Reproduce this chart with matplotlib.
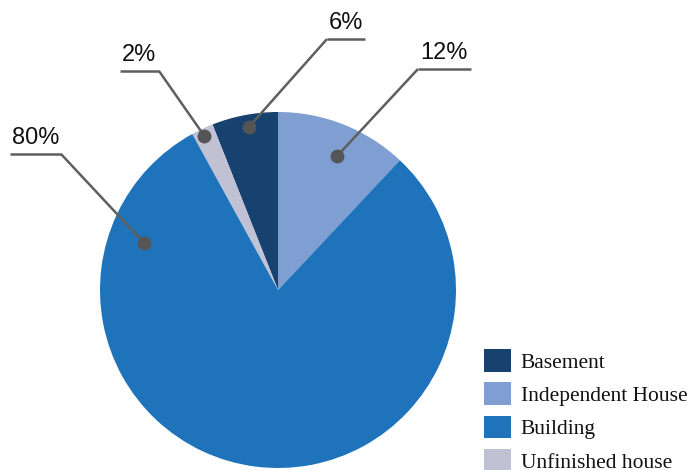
import numpy as np
import matplotlib
matplotlib.use("Agg")
import matplotlib.pyplot as plt
from matplotlib.patches import Patch

# data (in drawing order: counter-clockwise starting at Independent House)
categories = ["Independent House", "Basement", "Unfinished house", "Building"]
values = [12, 6, 2, 80]
labels = ["12%", "6%", "2%", "80%"]
legend_order = ["Basement", "Independent House", "Building", "Unfinished house"]

colors = {"Basement": "#17416e", "Independent House": "#7f9fd3",
          "Building": "#1f73bb", "Unfinished house": "#c0c2d4"}

W, H = 690, 470
fig = plt.figure(figsize=(W / 100, H / 100), dpi=100)
ax = fig.add_axes([0, 0, 1, 1])

cx, cy, R = 278, H - 290, 178
start = 90 - values[0] / sum(values) * 360
wedges, _ = ax.pie(values, colors=[colors[c] for c in categories], startangle=start,
                   counterclock=True, center=(cx, cy), radius=R,
                   wedgeprops=dict(linewidth=0))
ax.set_xlim(0, W)
ax.set_ylim(0, H)
ax.set_aspect("equal")
ax.axis("off")

# leader styles: (fraction within wedge angle, radius fraction, underline x0, x1, underline y px)
leaders = [
    (0.45, 0.82, 418, 471, 69),
    (0.47, 0.93, 327, 365, 39),
    (0.55, 0.96, 120, 159, 71),
    (0.145, 0.80, 10, 61, 154),
]
lc = "#5f5f5f"
for w, lab, (tf, rf, x0, x1, uy) in zip(wedges, labels, leaders):
    th = np.deg2rad(w.theta1 + tf * (w.theta2 - w.theta1))
    px, py = cx + rf * R * np.cos(th), cy + rf * R * np.sin(th)
    uyd = H - uy
    xe = x0 if abs(x0 - px) < abs(x1 - px) else x1
    ax.plot([px, xe], [py, uyd], color=lc, lw=1.8, solid_capstyle="butt")
    ax.plot([x0, x1], [uyd, uyd], color=lc, lw=1.8, solid_capstyle="butt")
    ax.plot(px, py, "o", color="#555555", ms=10, mec="none")
    ax.text(x0 + 2, uyd + 5, lab, fontsize=17, family="Liberation Sans",
            color="#111111", ha="left", va="bottom")

handles = [Patch(facecolor=colors[c], edgecolor="none") for c in legend_order]
leg = ax.legend(handles, legend_order, loc="upper left",
                bbox_to_anchor=(484, H - 349), bbox_transform=ax.transData,
                frameon=False, borderpad=0, borderaxespad=0,
                handlelength=1.25, handleheight=1.25, handletextpad=0.45,
                labelspacing=0.45, prop=dict(family="Liberation Serif", size=15.5))
for t in leg.get_texts():
    t.set_color("#111111")

fig.savefig("out.png", dpi=100)
